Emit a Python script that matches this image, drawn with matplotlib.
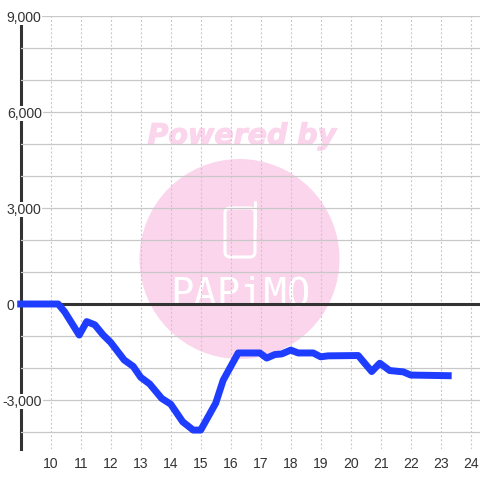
"""Cumulative balance by hour, with the faint Papimo watermark behind the grid."""
import matplotlib
matplotlib.use("Agg")
import matplotlib.pyplot as plt
import matplotlib.patheffects as pe
from matplotlib.lines import Line2D
from matplotlib.patches import Circle, FancyBboxPatch
from matplotlib.transforms import IdentityTransform

plt.rcParams["font.family"] = ["Liberation Sans", "DejaVu Sans"]

HOURS = [9, 10.25, 10.47, 10.95, 11.2, 11.47, 11.75, 12.0, 12.45, 12.75, 13.0,
         13.3, 13.7, 14.0, 14.4, 14.75, 15.0, 15.5, 15.75, 16.25, 16.97, 17.2,
         17.47, 17.7, 18.0, 18.25, 18.75, 19.0, 19.25, 20.25, 20.7, 20.97,
         21.3, 21.75, 22.0, 23.25]
BALANCE = [0, 0, -250, -970, -550, -650, -970, -1200, -1750, -1950, -2290,
           -2500, -2950, -3130, -3680, -3940, -3940, -3100, -2380, -1530, -1530,
           -1690, -1580, -1560, -1440, -1530, -1530, -1650, -1620, -1610, -2110,
           -1850, -2080, -2120, -2220, -2240]
X_TICKS = list(range(10, 25))
Y_TICKS = [-3000, 0, 3000, 6000, 9000]
Y_GRID = [-4000, -3000, -2000, -1000, 1000, 2000, 3000, 4000, 5000, 6000, 7000, 8000, 9000]

INK = "#333333"
GRID = "#c8c8c8"
PINK = "#fbd5ec"
BLUE = "#1f3dff"

fig = plt.figure(figsize=(4.8, 4.8), dpi=100)
ax = fig.add_axes([20.7 / 480, 31 / 480, 459.3 / 480, 433 / 480])
ax.patch.set_alpha(0)
ax.set_xlim(9, 24.31)
ax.set_ylim(-4531, 9000)

# watermark, in pixels from the bottom left, sits under the axes
px = IdentityTransform()
fig.add_artist(Circle((239.5, 221), 100, color=PINK, lw=0, transform=px, zorder=-3))
fig.add_artist(FancyBboxPatch((225, 223), 30, 49, boxstyle="round,pad=0,rounding_size=5",
                              fc="none", ec="white", lw=2.2, transform=px, zorder=-2))
fig.add_artist(Line2D([254.5, 254.5], [252, 278], color="white", lw=2.2,
                      solid_capstyle="round", transform=px, zorder=-2))
fig.text(242, 480 - 144, "Powered by", color=PINK, fontsize=20.5, family="DejaVu Sans",
         weight="bold", style="italic", ha="center", va="baseline", zorder=-2,
         transform=px, path_effects=[pe.withStroke(linewidth=0.8, foreground=PINK)])
fig.text(240, 480 - 305, "PAPiMO", color="white", fontsize=28, family="DejaVu Sans Mono",
         ha="center", va="baseline", zorder=-2, transform=px)

ax.set_xticks(X_TICKS)
ax.set_yticks(Y_GRID, minor=True)
ax.set_yticks(Y_TICKS)
ax.set_yticklabels([f"{v:,}" for v in Y_TICKS])
ax.set_axisbelow(False)
ax.grid(axis="x", color=GRID, lw=0.8, ls=(0, (1.8, 1.9)))
ax.grid(axis="y", which="both", color=GRID, lw=0.9)
ax.tick_params(axis="both", which="both", length=0, labelsize=10.1, labelcolor=INK)
ax.tick_params(axis="x", pad=6)
ax.tick_params(axis="y", pad=10)
ax.yaxis.get_major_ticks()[0].set_pad(13)
for lab in ax.get_yticklabels():
    lab.set_ha("left")
    lab.set_bbox(dict(fc="white", ec="none", pad=0.6))
    lab.set_zorder(5)

for side in ["top", "right", "bottom"]:
    ax.spines[side].set_visible(False)
ax.spines["left"].set_color(INK)
ax.spines["left"].set_linewidth(2.2)

ax.axhline(0, color=INK, lw=2.2, zorder=2.6)
ax.plot(HOURS, BALANCE, color=BLUE, lw=5, solid_joinstyle="round",
        solid_capstyle="projecting", clip_on=False, zorder=3)

fig.savefig("out.png", dpi=100)
plt.close(fig)
